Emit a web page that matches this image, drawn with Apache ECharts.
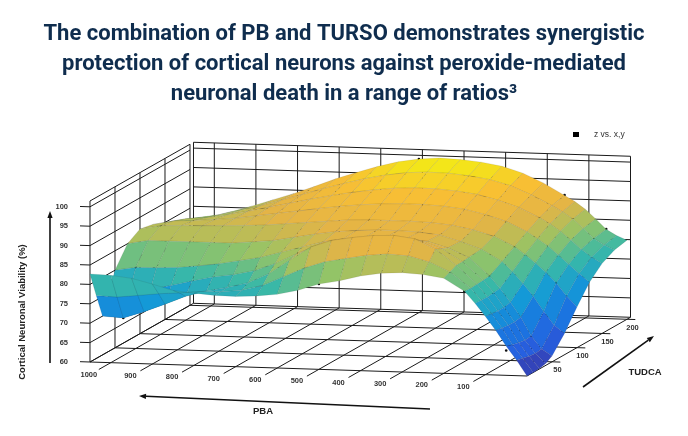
<!DOCTYPE html>
<html>
<head>
<meta charset="utf-8">
<script src="https://cdn.jsdelivr.net/npm/echarts@6/dist/echarts.min.js"></script>
<style>
  html, body { margin: 0; padding: 0; background: #fff; }
  #main { width: 688px; height: 436px; }
</style>
</head>
<body>
<div id="main"></div>
<script>
// surface sample positions
const pbaGrid = [0, 25, 50, 75, 100, 125, 150, 200, 250, 300, 350, 400, 450, 500, 550, 600, 650, 700, 750, 800, 850, 900, 950, 1000, 1050];
const tudcaGrid = [0, 12.5, 25, 37.5, 50, 75, 100, 125, 150, 175, 200];

// fitted viability (%) along PBA, one row per TUDCA level
const viaT000 = [60, 64, 67.5, 71.5, 75, 78.3, 81.3, 84.5, 85.3, 85.6, 85.3, 84.4, 83, 82, 80.2, 79, 78.4, 78.1, 78.2, 78.6, 79.1, 80.6, 81.9, 82.5, 82.7];
const viaT013 = [60, 63.6, 67, 71.2, 74.8, 78.2, 81.2, 85.2, 87.6, 89, 89.3, 88.8, 87.8, 86.8, 85, 82.6, 80.2, 78.8, 78.2, 78.1, 77.6, 77.2, 76.6, 76, 76.2];
const viaT025 = [60.1, 63.2, 66.6, 71, 74.6, 78.1, 81.3, 86, 90, 92.5, 93.2, 93, 92.3, 91.4, 89.5, 86, 82.3, 79.8, 78.4, 77.3, 75.8, 73.6, 71.5, 69.7, 70];
const viaT038 = [60.5, 63, 66.3, 70.9, 74.6, 78.3, 81.4, 86, 89.2, 91, 91.5, 91.5, 91, 90.5, 89, 86.6, 84, 82, 80.8, 80, 78.8, 77.5, 76.3, 75.5, 75];
const viaT050 = [61.5, 63.2, 66.5, 71.2, 75, 78.5, 81.6, 86.2, 88.5, 90, 90.5, 90.6, 90.4, 90, 89, 87.5, 86, 84.5, 83.5, 82.5, 81.8, 81.2, 81, 80.9, 80];
const viaT075 = [65.5, 67.5, 71, 74.8, 78, 81, 83.5, 86.5, 88.3, 89.8, 90.4, 90.6, 90.6, 90.3, 89.8, 89, 88, 87, 86.5, 86, 86, 86, 86, 86, 85];
const viaT100 = [70.5, 73.2, 76.5, 79.2, 81.5, 83.6, 85.5, 88, 89.5, 90.5, 91, 91.2, 91.2, 91.2, 91, 90.5, 90, 89.5, 89, 88.7, 88.5, 88.3, 88.2, 88, 87];
const viaT125 = [75, 77.2, 79.5, 81.8, 84, 85.8, 87.5, 90, 91.6, 92.8, 93.4, 93.7, 93.7, 93.5, 93.1, 92.5, 91.8, 91, 90.2, 89.4, 88.6, 88.1, 87.7, 87.4, 86.3];
const viaT150 = [78, 79.6, 81.5, 83.8, 86, 87.8, 89.3, 91.8, 93.5, 94.8, 95.5, 95.9, 96, 95.7, 95.1, 94.3, 93.3, 92.2, 91, 89.8, 88.6, 87.5, 86.6, 86.1, 85];
const viaT175 = [79.7, 80.9, 82.5, 85, 87.3, 89.1, 90.6, 93.2, 95.4, 96.8, 97.6, 98.1, 98.2, 97.9, 97.1, 96, 94.6, 93.1, 91.4, 89.8, 88.2, 86.8, 85.5, 84.6, 83.3];
const viaT200 = [80.4, 81.5, 83, 85.6, 88, 89.9, 91.4, 94.4, 96.8, 98.4, 99.3, 99.8, 100, 99.6, 98.7, 97.3, 95.6, 93.8, 91.7, 89.7, 87.9, 86.1, 84.5, 83, 81.7];
const viabilityRows = [viaT000, viaT013, viaT025, viaT038, viaT050, viaT075, viaT100, viaT125, viaT150, viaT175, viaT200];

// measured points: z vs. x,y
const pointPBA = [1000, 1000, 1000, 1000, 500, 500, 500, 500, 150, 150, 150, 150, 50, 50, 50, 50];
const pointTUDCA = [0, 25, 50, 100, 0, 25, 100, 200, 0, 50, 100, 200, 0, 50, 100, 200];
const pointViability = [80, 69.7, 80.9, 88, 82, 91.4, 91.2, 99.6, 81.3, 81.6, 85.5, 91.5, 66.4, 66.2, 76.6, 83.1];

// axis ticks
const pbaTicks = [1000, 900, 800, 700, 600, 500, 400, 300, 200, 100];
const tudcaTicks = [50, 100, 150, 200];
const viabilityTicks = [60, 65, 70, 75, 80, 85, 90, 95, 100];

// box extent
const PBA_MAX = 1050, TUDCA_MAX = 200, TUDCA_WALL = 207, Z_MIN = 60, Z_TOP = 101.5;

// fixed oblique view of the box
function project(p, t, v) {
  return [527 - 0.4162 * p + 0.5 * t, 376 - 0.01333 * p - 0.2836 * t - 3.88 * (v - Z_MIN)];
}
function depth(p, t, v) {
  return p + 0.8324 * t - 0.0643 * v;
}

// parula-like ramp, 60 -> 100 in steps of 5
const ramp = ['#3a36a6', '#2660e0', '#1978e0', '#149bd6', '#38b8a8', '#95c466', '#e4b446', '#f8bf34', '#f2f012'];

// surface cells sorted back to front
const cells = [];
for (let j = 0; j < tudcaGrid.length - 1; j++) {
  for (let i = 0; i < pbaGrid.length - 1; i++) {
    const zs = [viabilityRows[j][i], viabilityRows[j][i + 1], viabilityRows[j + 1][i + 1], viabilityRows[j + 1][i]];
    const zm = (zs[0] + zs[1] + zs[2] + zs[3]) / 4;
    const pc = (pbaGrid[i] + pbaGrid[i + 1]) / 2, tc = (tudcaGrid[j] + tudcaGrid[j + 1]) / 2;
    cells.push([i, j, zm, depth(pc, tc, zm)]);
  }
}
cells.sort((a, b) => b[3] - a[3]);

// box wall and floor segments [p1, t1, v1, p2, t2, v2]
const segs = [];
viabilityTicks.concat([Z_TOP]).forEach(v => {
  segs.push([PBA_MAX, 0, v, PBA_MAX, TUDCA_MAX, v]);      // left wall
  segs.push([0, TUDCA_WALL, v, PBA_MAX, TUDCA_WALL, v]);  // back wall
});
[0].concat(tudcaTicks).forEach(t => segs.push([PBA_MAX, t, Z_MIN, PBA_MAX, t, Z_TOP]));
[0, PBA_MAX].concat(pbaTicks).forEach(p => segs.push([p, TUDCA_WALL, Z_MIN, p, TUDCA_WALL, Z_TOP]));
pbaTicks.forEach(p => segs.push([p, -24, Z_MIN, p, TUDCA_WALL, Z_MIN]));
segs.push([0, 0, Z_MIN, 0, TUDCA_WALL, Z_MIN]);
segs.push([PBA_MAX, 0, Z_MIN, PBA_MAX, TUDCA_WALL, Z_MIN]);
segs.push([0, 0, Z_MIN, PBA_MAX, 0, Z_MIN]);
tudcaTicks.forEach(t => segs.push([-20, t, Z_MIN, PBA_MAX, t, Z_MIN]));
viabilityTicks.forEach(v => segs.push([PBA_MAX, 0, v, PBA_MAX + 24, 0, v]));

const tickFont = 'bold 7.5px "Liberation Sans Narrow", "Liberation Sans", Arial, sans-serif';
const labelFont = 'bold 9.5px "Liberation Sans", Arial, sans-serif';

function labelSeries(values, pos, dx, dy, align) {
  return {
    type: 'custom',
    coordinateSystem: 'cartesian2d',
    silent: true,
    data: values.map(v => [v]),
    renderItem: function (params, api) {
      const v = api.value(0);
      const c = api.coord(pos(v));
      return {
        type: 'text',
        style: {
          text: String(v), x: c[0] + dx, y: c[1] + dy,
          align: align, verticalAlign: 'middle', font: tickFont, fill: '#333'
        }
      };
    }
  };
}

function arrow(x1, y1, x2, y2) {
  const dx = x2 - x1, dy = y2 - y1, len = Math.sqrt(dx * dx + dy * dy);
  const ux = dx / len, uy = dy / len, hl = 7, hw = 2.6;
  const bx = x2 - ux * hl, by = y2 - uy * hl;
  return [
    { type: 'line', shape: { x1: x1, y1: y1, x2: bx, y2: by }, style: { stroke: '#111', lineWidth: 1.6 } },
    { type: 'polygon', shape: { points: [[x2, y2], [bx - uy * hw, by + ux * hw], [bx + uy * hw, by - ux * hw]] }, style: { fill: '#111' } }
  ];
}

const chart = echarts.init(document.getElementById('main'));
chart.setOption({
  animation: false,
  title: {
    text: 'The combination of PB and TURSO demonstrates synergistic\nprotection of cortical neurons against peroxide-mediated\nneuronal death in a range of ratios³',
    left: 'center',
    top: 19,
    padding: 0,
    textStyle: { fontFamily: 'Roboto', fontSize: 22, fontWeight: 'bold', color: '#0f2d4e', lineHeight: 30 }
  },
  legend: {
    data: ['z vs. x,y'],
    left: 573,
    top: 130,
    icon: 'rect',
    itemWidth: 6,
    itemHeight: 5,
    padding: 0,
    textStyle: { fontSize: 8.5, color: '#333', fontFamily: 'Liberation Sans', padding: [0, 0, 0, 10] }
  },
  grid: { left: 0, right: 0, top: 0, bottom: 0 },
  xAxis: { type: 'value', min: 0, max: 688, show: false },
  yAxis: { type: 'value', min: 0, max: 436, inverse: true, show: false },
  visualMap: {
    show: false, seriesIndex: 1, dimension: 2, min: 60, max: 100,
    inRange: { color: ramp }
  },
  graphic: [
    {
      type: 'text', x: 22, y: 312, rotation: Math.PI / 2,
      style: { text: 'Cortical Neuronal Viability (%)', font: labelFont, fill: '#222', align: 'center', verticalAlign: 'middle' }
    },
    { type: 'text', x: 263, y: 411, style: { text: 'PBA', font: labelFont, fill: '#222', align: 'center', verticalAlign: 'middle' } },
    { type: 'text', x: 645, y: 372, style: { text: 'TUDCA', font: labelFont, fill: '#222', align: 'center', verticalAlign: 'middle' } },
    { type: 'group', children: arrow(50, 363, 50, 211) },
    { type: 'group', children: arrow(430, 409, 139, 396) },
    { type: 'group', children: arrow(583, 387, 654, 336) }
  ],
  series: [
    {
      type: 'custom',
      coordinateSystem: 'cartesian2d',
      silent: true,
      data: segs,
      renderItem: function (params, api) {
        const a = api.coord(project(api.value(0), api.value(1), api.value(2)));
        const b = api.coord(project(api.value(3), api.value(4), api.value(5)));
        return { type: 'line', shape: { x1: a[0], y1: a[1], x2: b[0], y2: b[1] }, style: { stroke: '#1a1a1a', lineWidth: 1 } };
      }
    },
    {
      type: 'custom',
      coordinateSystem: 'cartesian2d',
      silent: true,
      data: cells,
      renderItem: function (params, api) {
        const i = api.value(0), j = api.value(1);
        const pts = [[i, j], [i + 1, j], [i + 1, j + 1], [i, j + 1]].map(function (q) {
          return api.coord(project(pbaGrid[q[0]], tudcaGrid[q[1]], viabilityRows[q[1]][q[0]]));
        });
        return {
          type: 'polygon',
          z2: params.dataIndex,
          shape: { points: pts },
          style: { fill: api.visual('color'), stroke: 'rgba(40,40,40,0.25)', lineWidth: 0.4 }
        };
      }
    },
    {
      name: 'z vs. x,y',
      type: 'custom',
      coordinateSystem: 'cartesian2d',
      silent: true,
      itemStyle: { color: '#000' },
      data: pointPBA.map((p, k) => [p, pointTUDCA[k], pointViability[k]]),
      renderItem: function (params, api) {
        const c = api.coord(project(api.value(0), api.value(1), api.value(2)));
        return { type: 'circle', shape: { cx: c[0], cy: c[1], r: 1.3 }, style: { fill: '#111' } };
      }
    },
    labelSeries(viabilityTicks, v => project(PBA_MAX, 0, v), -22, 0, 'right'),
    labelSeries(pbaTicks, p => project(p, 0, Z_MIN), -22, 12, 'center'),
    labelSeries(tudcaTicks, t => project(0, t, Z_MIN), 5.5, 8.5, 'center')
  ]
});
</script>
</body>
</html>
